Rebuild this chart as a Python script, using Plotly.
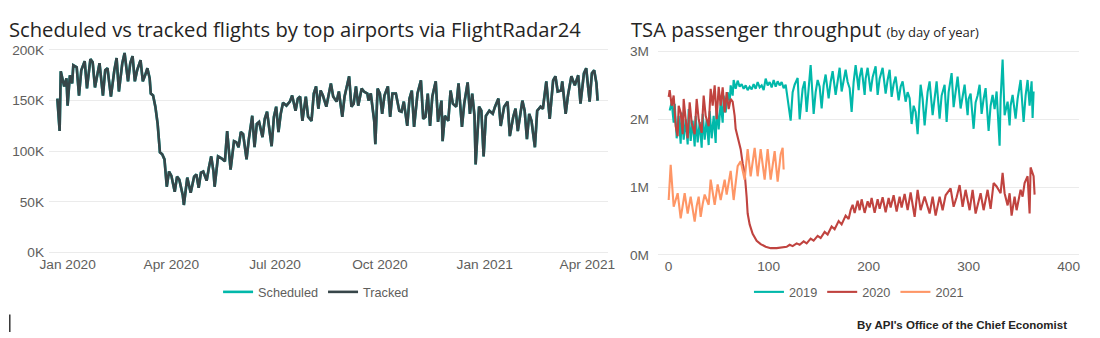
import pandas as pd
import plotly.graph_objects as go

# Figure size and the page geometry around it: the figure sits inside the default
# 8px body margin and the whole page is fitted to the window, so layout positions
# below are written in window pixels and converted with px_x / px_y.
FW, FH = 1100, 338
BODY_MARGIN = 8
SX = FW / (FW + 2 * BODY_MARGIN)
SY = FH / (FH + 2 * BODY_MARGIN)


def fig_x(x):
    return x / SX - BODY_MARGIN


def fig_y(y):
    return y / SY - BODY_MARGIN


def px_x(x):
    return fig_x(x) / FW


def px_y(y):
    return 1 - fig_y(y) / FH


# ---- Flights (thousands per day), day offsets from 2020-01-01 ----
flight_days = [
    -9, -7, -6, -3, -1, 0, 2, 4, 5, 8, 10, 12, 15, 17, 20, 22, 24, 28, 31, 33, 35, 38, 41, 43, 45, 48, 50,
    53, 55, 57, 59, 61, 64, 66, 68, 70, 72, 73, 75, 77, 79, 81, 83, 85, 87, 89, 91, 94, 96, 98, 101, 102,
    105, 108, 111, 113, 115, 117, 119, 122, 124, 126, 128, 129, 132, 135, 138, 140, 143,
    146, 148, 150, 152, 154, 157, 159, 162, 164, 166, 168, 171, 173, 175, 179, 181, 183, 185, 187, 189,
    192, 195, 197, 200, 202, 204, 206, 209, 211, 214, 216, 218, 220, 222, 224, 227, 231, 233, 236, 238,
    241, 243, 247, 249, 251, 253, 255, 258, 260, 263, 264, 266, 269, 270, 272, 274, 276, 278, 281, 283,
    285, 288, 291, 293, 295, 298, 300, 302,
    304, 307, 310, 312, 314, 316, 318, 320, 323, 325, 328, 329, 331, 334, 336, 338, 341, 343, 346, 348,
    351, 353, 355, 357, 358, 361, 363, 365, 367, 370, 373, 375, 378, 380, 383, 386, 388, 391, 393, 395,
    399, 401, 403, 405, 407, 410, 412, 415, 417, 420, 423, 426, 428, 430, 433, 434, 437, 439, 442, 445,
    448, 450, 453, 455, 458, 460, 462, 464, 465,
]
tracked_k = [
    152, 120, 179, 164, 172, 145, 175, 167, 185, 183, 155, 180, 189, 162, 191, 188, 163, 187, 155, 180, 182, 154, 180, 192, 159, 187, 197,
    169, 187, 194, 169, 180, 190, 169, 175, 182, 172, 157, 155, 144, 127, 99, 97, 92, 65, 80, 76, 60, 75, 72, 57, 47,
    74, 59, 75, 77, 64, 79, 80, 71, 84, 95, 80, 65, 95, 93, 90, 120, 82,
    110, 109, 104, 119, 117, 92, 112, 135, 104, 127, 129, 114, 132, 139, 105, 134, 144, 119, 137, 148,
    145, 149, 155, 140, 152, 154, 130, 154, 134, 130, 157, 164, 142, 160, 155, 144, 167, 154, 149, 159,
    134, 154, 174, 144, 147, 164, 145, 162, 159, 157, 150, 157, 130, 107, 162, 157, 137, 155, 164, 134,
    157, 157, 140, 139, 149, 125, 152, 160,
    124, 157, 170, 132, 134, 157, 125, 154, 169, 129, 150, 110, 135, 130, 160, 147, 144, 167, 124, 147,
    168, 137, 157, 135, 87, 144, 140, 95, 135, 140, 137, 144, 152, 125, 144, 149, 115, 134, 142, 120,
    150, 140, 112, 137, 130, 104, 140, 144, 142, 169, 132, 170, 174, 159, 160, 169, 137, 155, 174, 165,
    175, 147, 177, 182, 149, 177, 180, 167, 150,
]
# scheduled counts coincide with tracked at this scale
scheduled_k = list(tracked_k)

flight_ticks = ["2020-01-01", "2020-04-01", "2020-07-01", "2020-10-01", "2021-01-01", "2021-04-01"]
flight_tick_text = ["Jan 2020", "Apr 2020", "Jul 2020", "Oct 2020", "Jan 2021", "Apr 2021"]
flight_y_ticks = [0, 50, 100, 150, 200]
flight_y_text = ["0K", "50K", "100K", "150K", "200K"]

# ---- TSA throughput (millions), by day of year ----
days_2019 = [
    1, 3, 5, 6, 8, 10, 12, 13, 15, 17, 19, 20, 22, 24, 26, 27, 29, 31, 33, 34, 36, 38, 40, 41, 43, 45, 47,
    48, 50, 52, 54, 55, 57, 59, 61, 62, 64, 65, 67, 69, 71, 73, 75, 77, 79, 81, 83, 85, 87, 89, 91, 93,
    95, 97, 99, 101, 103, 105, 107, 109, 111, 113, 115, 117, 119, 122, 124, 126, 129, 131, 134, 136, 138,
    140, 142, 145, 147, 149, 151, 153, 155, 157, 160, 162, 164, 167, 169, 171, 173, 175, 177, 179, 181,
    183, 185, 187, 190, 191, 193, 196, 197, 199, 202, 204, 207, 209, 211, 214, 217, 219, 221, 223, 225,
    227, 230, 232, 234, 237, 239, 241, 243, 245, 247, 249, 252, 254, 256, 259, 261, 264, 266, 268, 271,
    273, 276, 278, 280, 283, 285, 287, 289, 292, 294, 296, 299, 300, 302, 305, 307, 309, 311, 313, 315,
    317, 320, 322, 324, 326, 328, 331, 332, 334, 336, 339, 341, 342, 344, 347, 349, 352, 355, 357, 359,
    361, 363, 364, 365,
]
tsa_2019 = [
    2.13, 2.25, 1.95, 2.23, 1.72, 2.05, 1.64, 2.10, 1.70, 2.00, 1.63, 2.15, 1.68, 1.98, 1.60, 2.05, 1.66, 1.96, 1.58, 2.08, 1.70, 2.00, 1.62, 2.12, 1.72, 2.05, 1.65,
    2.20, 1.85, 2.25, 1.95, 2.35, 2.10, 2.40, 2.25, 2.50, 2.35, 2.58, 2.45, 2.57, 2.48, 2.52, 2.45, 2.50, 2.43, 2.48, 2.44, 2.52, 2.45, 2.55, 2.47, 2.50,
    2.43, 2.60, 2.50, 2.55, 2.47, 2.58, 2.48, 2.56, 2.50, 2.55, 2.46, 2.51, 2.30, 1.98, 2.40, 2.51, 2.61, 2.00, 2.45, 2.56, 2.11,
    2.50, 2.80, 2.08, 2.40, 2.58, 2.48, 2.16, 2.50, 2.66, 2.31, 2.55, 2.71, 2.36, 2.60, 2.76, 2.41, 2.58, 2.73, 2.55, 2.46,
    2.11, 2.55, 2.80, 2.43, 2.62, 2.76, 2.36, 2.60, 2.76, 2.41, 2.62, 2.78, 2.36, 2.60, 2.76, 2.38, 2.58, 2.73, 2.33, 2.52,
    2.63, 2.28, 2.48, 2.56, 2.26, 2.40, 2.31, 1.93, 2.20, 2.11, 1.78, 2.51, 2.30, 1.91, 2.40, 2.56, 2.06, 2.35, 2.56, 2.01,
    2.35, 2.51, 1.96, 2.40, 2.68, 2.18, 2.45, 2.63, 2.16, 2.35, 2.51, 2.06, 2.30, 2.38, 1.86, 2.25, 2.35, 2.51, 2.08, 2.30,
    2.46, 1.83, 2.20, 2.36, 2.15, 2.41, 1.61, 2.30, 2.88, 2.06, 2.26, 1.91, 2.20, 2.36, 2.01, 2.30, 2.58, 1.96, 2.35, 2.58,
    2.20, 2.56, 2.02, 2.41,
]

days_2020 = [
    0, 1, 3, 5, 7, 9, 10, 12, 14, 15, 17, 19, 21, 23, 26, 28, 30, 33, 35, 37, 40, 42, 44, 46, 48, 50, 52,
    54, 56, 58, 60, 62, 64, 66, 67, 69, 72, 74, 76, 78, 79, 81, 84, 88, 92, 97, 102, 108, 114, 118, 121,
    124, 128, 131, 135, 138, 142, 145, 149, 152, 156, 159, 163, 166, 170, 173, 177, 180, 182, 184, 186,
    189, 191, 193, 196, 199, 201, 203, 206, 209, 211, 214, 217, 220, 222, 225, 228, 231, 233, 236, 239,
    242, 246, 249, 252, 256, 261, 264, 267, 271, 274, 277, 282, 285, 288, 291, 294, 297, 301, 304, 307,
    312, 315, 319, 322, 325, 328, 332, 334, 336, 339, 341, 343, 346, 348, 352, 354, 356, 359, 361, 362,
    365, 366,
]
tsa_2020 = [
    2.33, 2.43, 2.20, 2.35, 1.90, 1.75, 2.20, 2.10, 1.78, 2.30, 2.00, 1.72, 2.25, 1.95, 1.78, 2.30, 2.00, 1.80, 2.35, 2.05, 1.90, 2.45, 2.20, 2.50, 2.00, 2.48, 2.20,
    2.47, 2.10, 2.40, 2.15, 2.30, 2.26, 2.05, 1.86, 1.75, 1.56, 1.35, 1.21, 0.85, 0.61, 0.45, 0.31, 0.21, 0.16, 0.12, 0.10, 0.10, 0.11, 0.12, 0.15,
    0.13, 0.17, 0.15, 0.20, 0.17, 0.24, 0.21, 0.28, 0.25, 0.34, 0.30, 0.42, 0.38, 0.50, 0.45, 0.58, 0.53, 0.66, 0.74, 0.62,
    0.80, 0.66, 0.82, 0.62, 0.79, 0.70, 0.84, 0.62, 0.82, 0.68, 0.85, 0.63, 0.84, 0.70, 0.88, 0.64, 0.86, 0.70, 0.90, 0.66,
    0.92, 0.56, 0.96, 0.66, 0.86, 0.61, 0.86, 0.58, 0.86, 0.66, 0.88, 0.98, 0.71, 0.85, 1.03, 0.71, 0.96, 0.66, 0.96, 0.61,
    0.91, 0.66, 0.96, 0.68, 1.06, 1.01, 0.91, 1.21, 0.91, 0.73, 0.91, 0.58, 0.86, 0.66, 0.96, 0.86, 1.06, 1.16, 0.61, 1.29,
    1.16, 0.89,
]

days_2021 = [
    0, 2, 5, 7, 9, 12, 14, 16, 19, 21, 22, 26, 28, 30, 32, 34, 36, 40, 42, 46, 49, 52, 56, 58, 62, 65,
    69, 72, 76, 79, 82, 86, 89, 92, 96, 99, 102, 106, 109, 112, 114, 115,
]
tsa_2021 = [
    0.81, 1.33, 0.71, 0.80, 0.91, 0.54, 0.75, 0.91, 0.61, 0.80, 0.86, 0.49, 0.72, 0.86, 0.56, 0.75, 0.89, 0.74, 1.11, 0.74, 1.04, 0.81, 1.11, 0.89, 1.24, 0.81,
    1.31, 1.38, 1.11, 1.56, 1.16, 1.58, 1.16, 1.56, 1.11, 1.56, 1.11, 1.53, 1.08, 1.48, 1.58, 1.26,
]

tsa_x_ticks = [0, 100, 200, 300, 400]
tsa_y_ticks = [0, 1, 2, 3]
tsa_y_text = ["0M", "1M", "2M", "3M"]

# ---- styling ----
TEAL = "#01B8AA"
DARK = "#374649"
RED = "#C0433F"
ORANGE = "#FE9666"
GRID = "#EBEBEB"
TICK_FONT = dict(family="Liberation Sans, Arial, sans-serif", size=13.7, color="#605E5C")
LEGEND_FONT = dict(family="Liberation Sans, Arial, sans-serif", size=12.7, color="#605E5C")
TITLE_FONT = "'Open Sans', 'Segoe UI', sans-serif"

base = pd.Timestamp("2020-01-01")
flight_dates = base + pd.to_timedelta(flight_days, unit="D")

fig = go.Figure()

fig.add_trace(go.Scatter(x=flight_dates, y=scheduled_k, mode="lines", name="Scheduled",
                         line=dict(color=TEAL, width=2.6), xaxis="x", yaxis="y", legend="legend"))
fig.add_trace(go.Scatter(x=flight_dates, y=tracked_k, mode="lines", name="Tracked",
                         line=dict(color=DARK, width=2.6), xaxis="x", yaxis="y", legend="legend"))

for name, xs, ys, col in [("2019", days_2019, tsa_2019, TEAL),
                          ("2020", days_2020, tsa_2020, RED),
                          ("2021", days_2021, tsa_2021, ORANGE)]:
    fig.add_trace(go.Scatter(x=xs, y=ys, mode="lines", name=name,
                             line=dict(color=col, width=2.1), xaxis="x2", yaxis="y2", legend="legend2"))

# plot areas in window pixels
L_X0, L_X1 = 48, 607
R_X0, R_X1 = 657, 1078
L_PX_PER_DAY = 1.14
L_JAN = 66.5
left_range = [base + pd.Timedelta(days=(L_X0 - L_JAN) / L_PX_PER_DAY),
              base + pd.Timedelta(days=(L_X1 - L_JAN) / L_PX_PER_DAY)]

fig.update_layout(
    width=FW, height=FH,
    margin=dict(l=0, r=0, t=0, b=0),
    paper_bgcolor="white", plot_bgcolor="white",
    showlegend=True,
    xaxis=dict(domain=[px_x(L_X0), px_x(L_X1)], range=left_range, type="date",
               tickvals=flight_ticks, ticktext=flight_tick_text, showgrid=False,
               zeroline=False, showline=False, ticks="", tickfont=TICK_FONT, anchor="y"),
    yaxis=dict(domain=[px_y(254), px_y(50)], range=[-2, 202],
               tickvals=flight_y_ticks, ticktext=flight_y_text, gridcolor=GRID, gridwidth=1,
               zeroline=False, showline=False, ticks="", tickfont=TICK_FONT, anchor="x",
               ticklabelstandoff=4),
    xaxis2=dict(domain=[px_x(R_X0), px_x(R_X1)], range=[-10.7, 410.3],
                tickvals=tsa_x_ticks, showgrid=False, zeroline=False, showline=False,
                ticks="", tickfont=TICK_FONT, anchor="y2"),
    yaxis2=dict(domain=[px_y(256), px_y(50)], range=[-0.0254, 3.0525],
                tickvals=tsa_y_ticks, ticktext=tsa_y_text, gridcolor=GRID, gridwidth=1,
                zeroline=False, showline=False, ticks="", tickfont=TICK_FONT, anchor="x2",
                ticklabelstandoff=8),
    legend=dict(orientation="h", x=px_x(217), y=px_y(291), xanchor="left", yanchor="middle",
                font=LEGEND_FONT, bgcolor="rgba(0,0,0,0)", borderwidth=0),
    legend2=dict(orientation="h", x=px_x(748), y=px_y(291), xanchor="left", yanchor="middle",
                 font=LEGEND_FONT, bgcolor="rgba(0,0,0,0)", borderwidth=0),
    annotations=[
        dict(text="Scheduled vs tracked flights by top airports via FlightRadar24",
             xref="paper", yref="paper", x=(fig_x(8) - 2.2) / FW, y=px_y(31.5),
             xanchor="left", yanchor="middle", showarrow=False,
             font=dict(family=TITLE_FONT, size=20.2, color="#252423")),
        dict(text="TSA passenger throughput <span style='font-size:13px'>(by day of year)</span>",
             xref="paper", yref="paper", x=(fig_x(630) - 2.5) / FW, y=px_y(31.5),
             xanchor="left", yanchor="middle", showarrow=False,
             font=dict(family=TITLE_FONT, size=20.2, color="#252423")),
        dict(text="<b>By API's Office of the Chief Economist</b>",
             xref="paper", yref="paper", x=(fig_x(1067) + 1.6) / FW, y=px_y(323),
             xanchor="right", yanchor="middle", showarrow=False,
             font=dict(family="Liberation Sans, Arial, sans-serif", size=11.5, color="#252423")),
    ],
    shapes=[
        dict(type="line", xref="paper", yref="paper", x0=0.8 / FW, x1=0.8 / FW,
             y0=px_y(313), y1=0, line=dict(color="#333333", width=1.5)),
    ],
)

fig.write_html("out.html")
